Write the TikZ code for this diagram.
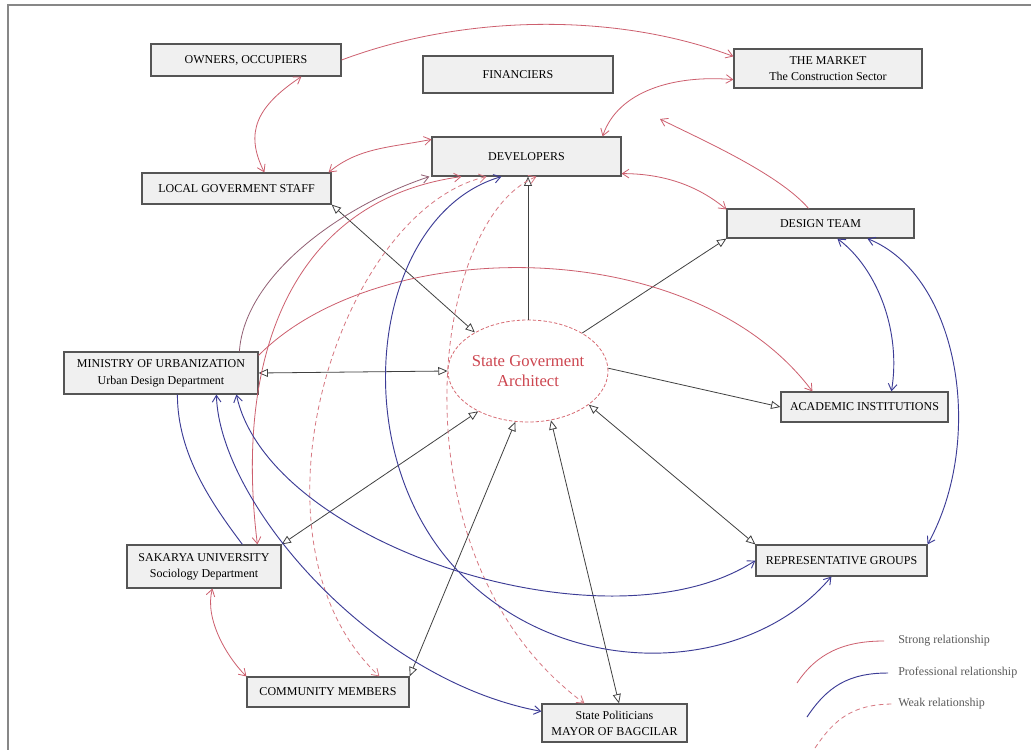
\documentclass[tikz,border=0pt]{standalone}
\usepackage{fontspec}
\setmainfont{Liberation Serif}
\usetikzlibrary{arrows.meta,calc,shapes.geometric}
\definecolor{strongc}{RGB}{205,95,110}
\definecolor{strongd}{RGB}{145,95,115}
\definecolor{profc}{RGB}{60,60,150}
\definecolor{weakc}{RGB}{215,120,130}
\definecolor{connc}{RGB}{65,65,65}
\definecolor{boxfill}{RGB}{240,240,240}
\definecolor{boxline}{RGB}{85,85,85}
\definecolor{framec}{RGB}{135,135,135}
\definecolor{archc}{RGB}{205,70,80}
\definecolor{legc}{RGB}{90,90,90}
\tikzset{
  box/.style={draw=boxline, fill=boxfill, line width=0.9pt, inner sep=0pt, align=center,
    font=\fontsize{9}{12}\selectfont, text=black},
  archnode/.style={ellipse, draw=archc!80, dash pattern=on 2.5pt off 1.5pt, fill=white,
    inner sep=0pt, line width=0.6pt, align=center, font=\fontsize{12.5}{15}\selectfont, text=archc},
  conn/.style={draw=connc, line width=0.6pt, >={Triangle[open,length=7pt,width=6pt]}},
  strongrel/.style={draw=strongc, line width=0.6pt, >={Straight Barb[length=5pt,width=6.5pt]}},
  strongdark/.style={draw=strongd, line width=0.6pt, >={Straight Barb[length=5pt,width=6.5pt]}},
  profrel/.style={draw=profc, line width=0.7pt, >={Straight Barb[length=5pt,width=6.5pt]}},
  weakrel/.style={draw=weakc, line width=0.6pt, dash pattern=on 3.5pt off 2.5pt,
    >={Straight Barb[length=5pt,width=6.5pt]}},
  legtxt/.style={inner sep=0pt, anchor=west, font=\fontsize{9}{10}\selectfont, text=legc},
}
\begin{document}
\begin{tikzpicture}[x=0.75pt,y=-0.75pt]
\useasboundingbox (0,0) rectangle (1031,750);
\fill[white] (0,0) rectangle (1031,750);
\draw[framec, line width=1pt] (1031,5) -- (8,5) -- (8,750);

% nodes
\node[box, minimum width=142.5pt, minimum height=24pt] (own) at (246,60) {OWNERS, OCCUPIERS};
\node[box, minimum width=142.5pt, minimum height=27.75pt] (fin) at (518,74.5) {FINANCIERS};
\node[box, minimum width=141pt, minimum height=29.25pt] (mkt) at (828,68.5) {THE MARKET\\The Construction Sector};
\node[box, minimum width=141.75pt, minimum height=29.25pt] (dev) at (526.5,156.5) {DEVELOPERS};
\node[box, minimum width=141.75pt, minimum height=23.25pt] (lgs) at (236.5,188.5) {LOCAL GOVERMENT STAFF};
\node[box, minimum width=140.25pt, minimum height=21.75pt] (dt) at (820.5,223.5) {DESIGN TEAM};
\node[box, minimum width=145.5pt, minimum height=31.5pt, font=\fontsize{9}{13}\selectfont] (min) at (161,373) {MINISTRY OF URBANIZATION\\Urban Design Department};
\node[box, minimum width=125.25pt, minimum height=22.5pt] (aca) at (864.5,407) {ACADEMIC INSTITUTIONS};
\node[archnode, minimum width=120pt, minimum height=76.5pt] (sga) at (528,371) {State Goverment\\Architect};
\node[box, minimum width=115.5pt, minimum height=32.25pt] (sak) at (204,566.5) {SAKARYA UNIVERSITY\\Sociology Department};
\node[box, minimum width=121.5pt, minimum height=22.5pt] (com) at (328,692) {COMMUNITY MEMBERS};
\node[box, minimum width=128.25pt, minimum height=23.25pt] (rep) at (841.5,560.5) {REPRESENTATIVE GROUPS};
\node[box, minimum width=108.75pt, minimum height=28.5pt] (pol) at (614.5,723) {State Politicians\\MAYOR OF BAGCILAR};

% straight connectors to/from the State Government Architect
\draw[conn,->] (sga.north) -- (sga.north |- dev.south);
\draw[conn,<->] (lgs.south east) -- (sga.144);
\draw[conn,->] (sga.35) -- (dt.south west);
\draw[conn,<->] (min.east) -- (sga.180);
\draw[conn,->] (sga.2) -- (aca.west);
\draw[conn,<->] (rep.north west) -- (sga.-29);
\draw[conn,<->] (sak.north east) -- (sga.-141);
\draw[conn,<->] (com.north east) -- (sga.-104);
\draw[conn,<->] ($(pol.north)+(4.5,0)$) -- (sga.-65);

% strong relationships
\draw[strongrel,->] (own.east) .. controls +(120,-45) and +(-120,-45) .. ($(mkt.north west)+(0,8)$);
\draw[strongrel,<->] ($(own.south west)+(151,0)$) .. controls +(-45,30) and +(-20,-40) .. ($(lgs.north west)+(123,0)$);
\draw[strongrel,<->] ($(lgs.north east)+(-3,0)$) .. controls +(30,-25) and +(-40,8) .. ($(dev.north west)+(0,3)$);
\draw[strongrel,<->] ($(mkt.south west)+(0,-9)$) .. controls +(-60,-5) and +(15,-45) .. ($(dev.north east)+(-19,0)$);
\draw[strongrel,<->] ($(dev.south east)+(0,-3)$) .. controls +(40,0) and +(-30,-25) .. ($(dt.north west)+(0,1)$);
\coordinate (fend) at (660,119);
\draw[strongrel,->] ($(dt.north)+(-12,0)$) .. controls +(-30,-35) and +(40,20) .. (fend);
\draw[strongrel,->] ($(min.north east)+(0,4)$) .. controls +(120,-121) and +(-120,-160) .. ($(aca.north west)+(32,0)$);
\draw[strongdark,->] ($(min.north west)+(176,0)$) .. controls +(5,-75) and +(-90,30) .. ($(dev.south west)+(-2,0)$);
\draw[strongrel,<->] ($(dev.south west)+(30,0)$) .. controls +(-172,24) and +(-23,-185) .. ($(sak.north west)+(131,0)$);
\draw[strongrel,<->] ($(sak.south west)+(86,0)$) .. controls +(-8,30) and +(-20,-20) .. (com.north west);

% weak relationships
\draw[weakrel,<->] ($(dev.south west)+(55,0)$) .. controls +(-147,34) and +(-145,-137) .. ($(com.north west)+(133,0)$);
\draw[weakrel,<->] ($(dev.south west)+(105,0)$) .. controls +(-107,44) and +(-195,-144) .. ($(pol.north west)+(43,0)$);

% professional relationships
\coordinate (hmid) at (467,580);
\draw[profrel,<->] ($(dev.south west)+(70,0)$) .. controls +(-132,39) and +(-127,-120) .. (hmid)
   .. controls +(110,104) and +(-80,95) .. ($(rep.south west)+(76,0)$);
\draw[profrel,<->] ($(min.south west)+(153,0)$) .. controls +(3,106) and +(-172,-32) .. ($(pol.north west)+(0,8)$);
\draw[profrel,<->] ($(min.south west)+(173,0)$) .. controls +(33,151) and +(-146,94.5) .. (rep.west);
\draw[profrel] ($(min.south west)+(114,0)$) .. controls +(0,60) and +(-30,-40) .. ($(sak.north west)+(116,0)$);
\draw[profrel,<->] ($(dt.south west)+(111,0)$) .. controls +(40,30) and +(10,-60) .. ($(aca.north west)+(111,0)$);
\draw[profrel,<->] ($(dt.south west)+(141,0)$) .. controls +(92,37) and +(58,-105) .. (rep.north east);

% legend
\node[legtxt] (lg1) at (898,641) {Strong relationship};
\node[legtxt] (lg2) at (898,673) {Professional relationship};
\node[legtxt] (lg3) at (898,704) {Weak relationship};
\coordinate (ls1) at (797,683);
\coordinate (ls2) at (807,717);
\coordinate (ls3) at (815,748);
\draw[strongrel] (ls1) .. controls +(20,-30) and +(-40,0) .. ($(lg1.west)+(-14,0)$);
\draw[profrel] (ls2) .. controls +(20,-30) and +(-40,0) .. ($(lg2.west)+(-10,0)$);
\draw[weakrel] (ls3) .. controls +(20,-30) and +(-40,0) .. ($(lg3.west)+(-4,0)$);
\end{tikzpicture}
\end{document}
